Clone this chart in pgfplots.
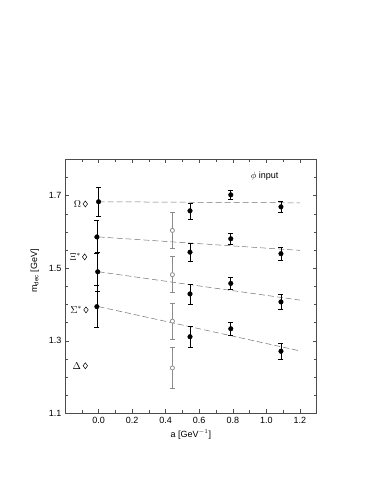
\documentclass[border=0pt]{standalone}
\usepackage{fontspec}
\setmainfont{Liberation Sans}
\usepackage{pgfplots}
\pgfplotsset{compat=1.18}
\begin{document}
\begin{tikzpicture}
\path (0pt,0pt) rectangle (382pt,494pt);
\begin{axis}[
  at={(65pt,80.7pt)}, anchor=south west,
  scale only axis, width=251.7pt, height=254pt,
  xmin=-0.2, xmax=1.3, ymin=1.1, ymax=1.8,
  xtick={0,0.2,0.4,0.6,0.8,1.0,1.2},
  minor xtick={-0.1,0.1,0.3,0.5,0.7,0.9,1.1},
  ytick={1.1,1.3,1.5,1.7},
  minor ytick={1.15,1.2,1.25,1.35,1.4,1.45,1.55,1.6,1.65,1.75},
  tick align=inside, major tick length=4pt, minor tick length=3pt,
  xticklabel style={/pgf/number format/.cd, fixed, fixed zerofill, precision=1},
  yticklabel style={/pgf/number format/.cd, fixed, fixed zerofill, precision=1},
  /pgf/number format/assume math mode=true,
  tick label style={font=\fontsize{9}{10}\selectfont},
  label style={font=\fontsize{9}{10}\selectfont},
  xlabel={a [GeV$^{-1}$]},
  ylabel={m\textsubscript{dec} [GeV]},
  ylabel style={at={(axis description cs:-0.12,0.56)}, anchor=center},
  axis line style={line width=0.5pt, black!70},
  every tick/.style={black!70, line width=0.4pt},
  clip=false,
]
% fits
\addplot[black!55, line width=0.5pt, dash pattern=on 6pt off 3pt] coordinates {(0,1.683) (1.2,1.680)};
\addplot[black!55, line width=0.5pt, dash pattern=on 6pt off 3pt] coordinates {(0,1.586) (1.2,1.549)};
\addplot[black!55, line width=0.5pt, dash pattern=on 6pt off 3pt] coordinates {(0,1.490) (1.2,1.412)};
\addplot[black!55, line width=0.5pt, dash pattern=on 6pt off 3pt] coordinates {(0,1.394) (1.2,1.272)};
% open points: error bars, then markers on top
\addplot[only marks, black!45, mark=none,
  error bars/.cd, y dir=both, y explicit,
  error bar style={black!45, line width=0.7pt},
  error mark options={rotate=90, mark size=2.5pt, black!45, line width=0.7pt}]
  coordinates {(0.44,1.604) +- (0,0.050) (0.44,1.482) +- (0,0.050)
               (0.44,1.354) +- (0,0.050) (0.44,1.225) +- (0,0.056)};
\addplot[only marks, black!45, mark=*, mark size=2pt, mark options={fill=white, draw=black!45, line width=0.7pt}]
  coordinates {(0.44,1.604) (0.44,1.482) (0.44,1.354) (0.44,1.225)};
% filled points
\addplot[only marks, black, mark=*, mark size=2.3pt,
  error bars/.cd, y dir=both, y explicit,
  error bar style={black, line width=0.6pt},
  error mark options={rotate=90, mark size=2.5pt, black}]
  coordinates {
   (0,1.683) +- (0,0.041) (0.545,1.658) +- (0,0.022) (0.788,1.702) +- (0,0.013) (1.087,1.669) +- (0,0.016)
   (-0.01,1.586) +- (0,0.045) (0.545,1.544) +- (0,0.024) (0.788,1.581) +- (0,0.015) (1.087,1.540) +- (0,0.018)
   (-0.005,1.490) +- (0,0.053) (0.545,1.429) +- (0,0.027) (0.788,1.458) +- (0,0.016) (1.087,1.407) +- (0,0.020)
   (-0.01,1.394) +- (0,0.058) (0.545,1.311) +- (0,0.030) (0.788,1.333) +- (0,0.018) (1.087,1.271) +- (0,0.023)
  };
% experiment
\addplot[only marks, black, mark=diamond, mark size=3pt, line width=0.5pt]
  coordinates {(-0.079,1.677) (-0.083,1.531) (-0.075,1.385) (-0.079,1.231)};
\node[anchor=east, font=\fontsize{10}{11}\selectfont, inner sep=0.5pt] at (axis cs:-0.1,1.677) {$\Omega$};
\node[anchor=east, font=\fontsize{10}{11}\selectfont, inner sep=0.5pt] at (axis cs:-0.1,1.531) {$\Xi^*$};
\node[anchor=east, font=\fontsize{10}{11}\selectfont, inner sep=0.5pt] at (axis cs:-0.094,1.385) {$\Sigma^*$};
\node[anchor=east, font=\fontsize{10}{11}\selectfont, inner sep=0.5pt] at (axis cs:-0.1,1.231) {$\Delta$};
\node[font=\fontsize{9}{10}\selectfont] at (axis cs:0.99,1.754) {$\phi$ input};
\end{axis}
\end{tikzpicture}
\end{document}
